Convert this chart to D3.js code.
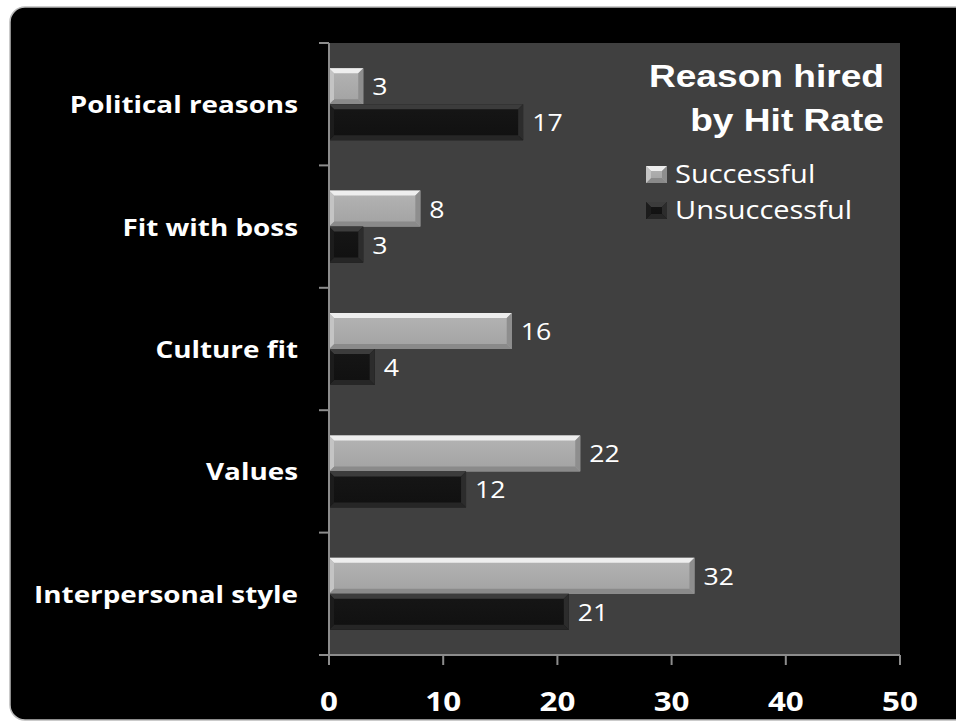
<!DOCTYPE html>
<html>
<head>
<meta charset="utf-8">
<script src="https://cdn.jsdelivr.net/npm/d3@7"></script>
<style>
  body { margin: 0; background: #fff; }
  svg { display: block; }
</style>
</head>
<body>
<svg width="956" height="721"></svg>
<script>
// data
var categories = ["Political reasons", "Fit with boss", "Culture fit", "Values", "Interpersonal style"];
var successful = [3, 8, 16, 22, 32];
var unsuccessful = [17, 3, 4, 12, 21];
var seriesNames = ["Successful", "Unsuccessful"];
var xTicks = [0, 10, 20, 30, 40, 50];

var svg = d3.select("svg");
var SX = 1.16; // the original text is a bit wider than our fonts

// place a text with a slight horizontal stretch
function put(sel, fx, fy) {
  sel.attr("transform", function(d, i) {
    return "translate(" + fx(d, i) + "," + fy(d, i) + ") scale(" + SX + ",1)";
  });
  return sel;
}

// black panel
svg.append("rect")
  .attr("x", 10).attr("y", 7)
  .attr("width", 980).attr("height", 713)
  .attr("rx", 15)
  .attr("fill", "#000")
  .attr("stroke", "#bbb")
  .attr("stroke-width", 1.5);

var plot = { left: 329, right: 900, top: 43, bottom: 655 };

var x = d3.scaleLinear().domain([0, 50]).range([plot.left, plot.right]);
var y = d3.scaleBand().domain(categories).range([plot.top, plot.bottom]);
var barH = 36;

// gradients
var defs = svg.append("defs");
function grad(id, stops) {
  var g = defs.append("linearGradient").attr("id", id)
    .attr("x1", 0).attr("y1", 0).attr("x2", 0).attr("y2", 1);
  stops.forEach(function(s) {
    g.append("stop").attr("offset", s[0]).attr("stop-color", s[1]);
  });
}
grad("lightFace", [[0, "#b4b4b4"], [1, "#a2a2a2"]]);
grad("darkFace", [[0, "#161616"], [1, "#101010"]]);

// plot area
svg.append("rect")
  .attr("x", plot.left).attr("y", plot.top)
  .attr("width", plot.right - plot.left).attr("height", plot.bottom - plot.top)
  .attr("fill", "#404040");

var styles = [
  { face: "url(#lightFace)", top: "#eeeeee", bottom: "#8a8a8a", right: "#8e8e8e", left: "#c4c4c4" },
  { face: "url(#darkFace)", top: "#3c3c3c", bottom: "#262626", right: "#2c2c2c", left: "#1c1c1c" }
];

// one bar with bevelled edges
function bevelBar(g, x0, x1, y0, h, st) {
  var b = Math.min(5, (x1 - x0) / 3);
  var y1 = y0 + h;
  g.append("rect").attr("x", x0).attr("y", y0).attr("width", x1 - x0).attr("height", h)
    .attr("fill", st.face);
  g.append("path").attr("fill", st.top)
    .attr("d", "M" + x0 + "," + y0 + "L" + x1 + "," + y0 + "L" + (x1 - b) + "," + (y0 + b) + "L" + (x0 + b) + "," + (y0 + b) + "Z");
  g.append("path").attr("fill", st.bottom)
    .attr("d", "M" + x0 + "," + y1 + "L" + x1 + "," + y1 + "L" + (x1 - b) + "," + (y1 - b) + "L" + (x0 + b) + "," + (y1 - b) + "Z");
  g.append("path").attr("fill", st.right)
    .attr("d", "M" + x1 + "," + y0 + "L" + x1 + "," + y1 + "L" + (x1 - b) + "," + (y1 - b) + "L" + (x1 - b) + "," + (y0 + b) + "Z");
  g.append("path").attr("fill", st.left)
    .attr("d", "M" + x0 + "," + y0 + "L" + x0 + "," + y1 + "L" + (x0 + b) + "," + (y1 - b) + "L" + (x0 + b) + "," + (y0 + b) + "Z");
}

var bars = svg.append("g");
categories.forEach(function(c, i) {
  var mid = y(c) + y.bandwidth() / 2;
  [successful[i], unsuccessful[i]].forEach(function(v, s) {
    var top = mid - barH + s * barH;
    var g = bars.append("g");
    bevelBar(g, x(0), x(v), top, barH, styles[s]);
    put(g.append("text"), function() { return x(v) + 9; }, function() { return top + barH / 2 + 9; })
      .attr("fill", "#fff")
      .attr("font-family", "'Open Sans', sans-serif")
      .attr("font-size", 23)
      .text(v);
  });
});

// axes
var axisColor = "#8c8c8c";
svg.append("line")
  .attr("x1", plot.left).attr("x2", plot.left)
  .attr("y1", plot.top).attr("y2", plot.bottom)
  .attr("stroke", axisColor).attr("stroke-width", 2);
var yEdges = categories.map(function(c) { return y(c); }).concat([plot.bottom]);
svg.selectAll(".ytick").data(yEdges).enter().append("line")
  .attr("x1", plot.left - 10).attr("x2", plot.left)
  .attr("y1", function(d) { return d; }).attr("y2", function(d) { return d; })
  .attr("stroke", axisColor).attr("stroke-width", 2);

svg.append("line")
  .attr("x1", plot.left - 10).attr("x2", plot.right)
  .attr("y1", plot.bottom).attr("y2", plot.bottom)
  .attr("stroke", axisColor).attr("stroke-width", 2);
svg.selectAll(".xtick").data(xTicks).enter().append("line")
  .attr("x1", function(d) { return x(d); }).attr("x2", function(d) { return x(d); })
  .attr("y1", plot.bottom).attr("y2", plot.bottom + 10)
  .attr("stroke", axisColor).attr("stroke-width", 2);
put(svg.selectAll(".xlabel").data(xTicks).enter().append("text"),
    function(d) { return x(d); }, function() { return 711; })
  .attr("text-anchor", "middle")
  .attr("fill", "#fff")
  .attr("font-family", "'Open Sans', sans-serif")
  .attr("font-weight", "bold")
  .attr("font-size", 27)
  .text(function(d) { return d; });

// category labels
put(svg.selectAll(".ylabel").data(categories).enter().append("text"),
    function() { return 298; }, function(d) { return y(d) + y.bandwidth() / 2 + 9; })
  .attr("text-anchor", "end")
  .attr("fill", "#fff")
  .attr("font-family", "'Open Sans', sans-serif")
  .attr("font-weight", "bold")
  .attr("font-size", 24)
  .text(function(d) { return d; });

// title
var titleLines = ["Reason hired", "by Hit Rate"];
put(svg.selectAll(".title").data(titleLines).enter().append("text"),
    function() { return 884; }, function(d, i) { return 87 + i * 44; })
  .attr("text-anchor", "end")
  .attr("fill", "#fff")
  .attr("font-family", "'Liberation Sans', Arial, sans-serif")
  .attr("font-weight", "bold")
  .attr("font-size", 32)
  .text(function(d) { return d; });

// legend
var legend = svg.append("g");
seriesNames.forEach(function(name, i) {
  var ly = 166 + i * 36;
  bevelBar(legend.append("g"), 646, 667, ly, 17, styles[i]);
  put(legend.append("text"), function() { return 675; }, function() { return ly + 17; })
    .attr("fill", "#fff")
    .attr("font-family", "'Open Sans', sans-serif")
    .attr("font-size", 25)
    .text(name);
});
</script>
</body>
</html>
